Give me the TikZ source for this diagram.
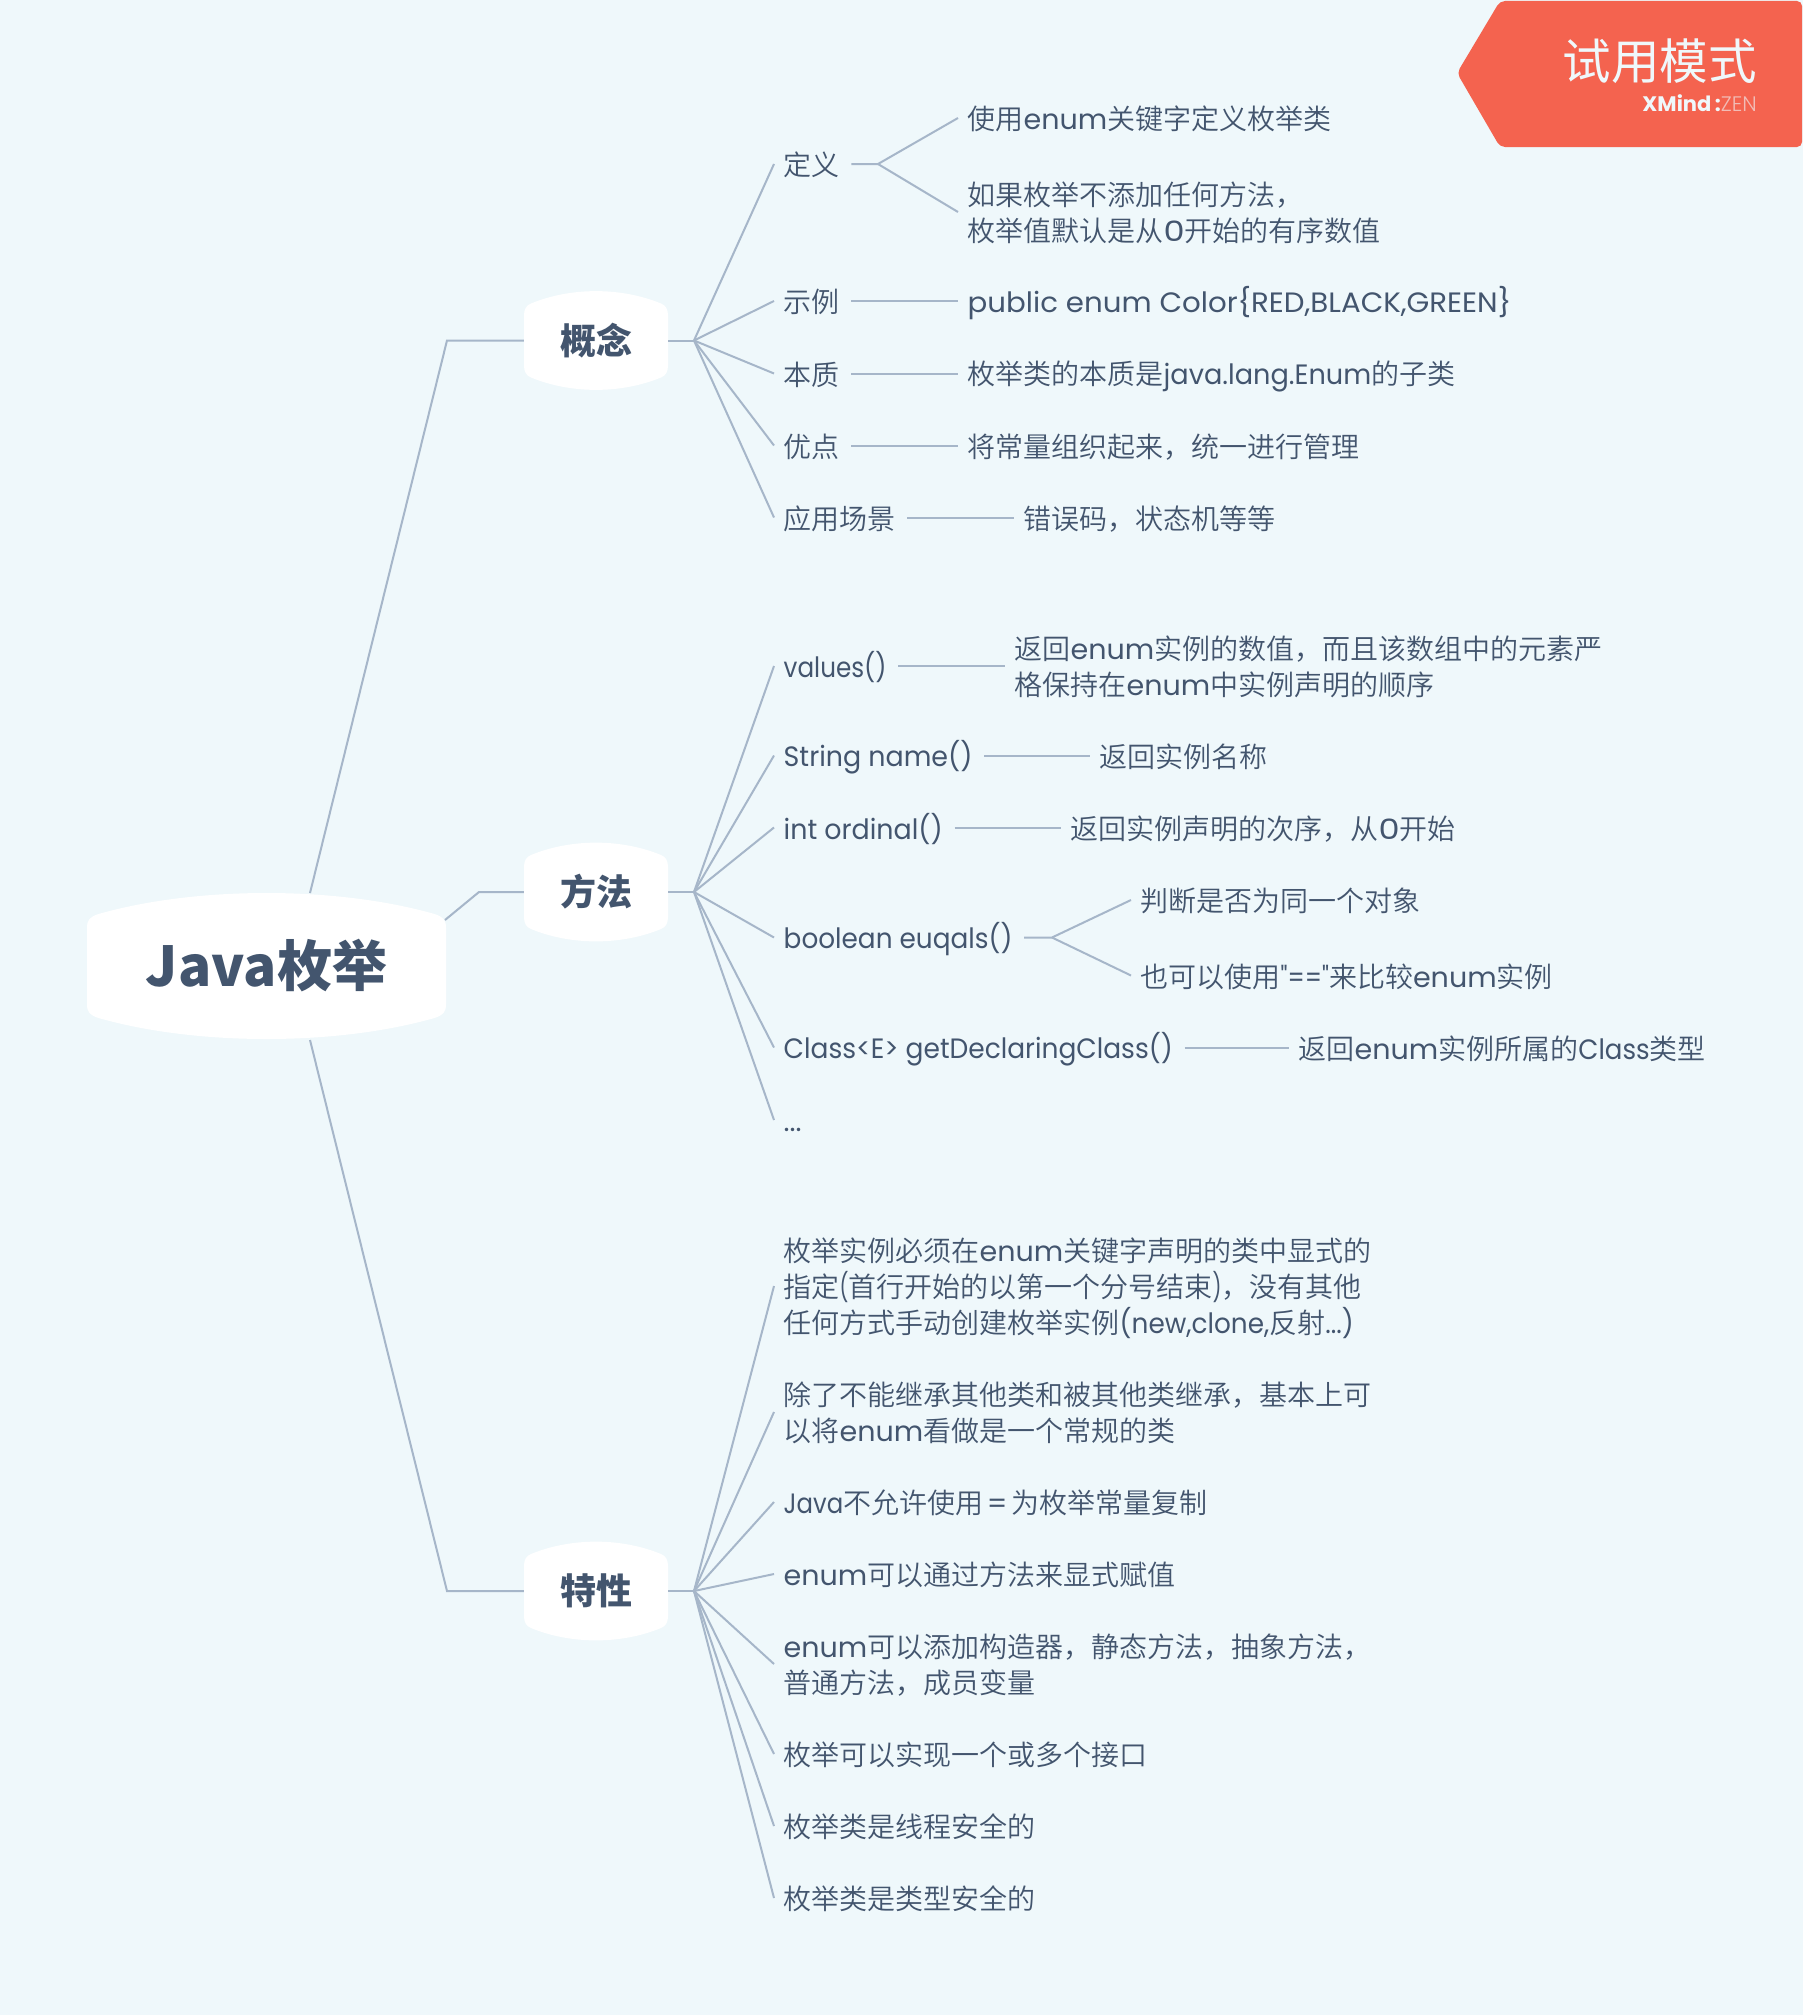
\documentclass[tikz,border=0pt]{standalone}
\usepackage{fontspec}
\setmainfont{Noto Sans CJK SC DemiLight}
\newfontfamily\hdfont{Noto Sans CJK SC}
\newfontfamily\enfont{Poppins}[FakeStretch=1.02]
\newfontfamily\enbold{Poppins}
\newfontfamily\enthin{Poppins Light}
\newcommand\en[1]{{\enfont #1}}
\newcommand\ens[2]{{\enfont\addfontfeature{FakeStretch=#1}#2}}
\definecolor{bgc}{HTML}{EFF8FB}
\definecolor{linec}{HTML}{A6B6C9}
\definecolor{txtc}{HTML}{43556E}
\definecolor{badgec}{HTML}{F4634F}
\newcommand\leafstrut{\rule[-6pt]{0pt}{35.6pt}}
\tikzset{
  conn/.style={draw=linec,line width=2pt},
  leaf/.style={anchor=west,align=left,inner xsep=9.5pt,inner ysep=0pt,text=txtc,font=\fontsize{28}{36}\selectfont,execute at begin node=\leafstrut,execute at end node=\kern2pt\leafstrut},
  topicnode/.style={minimum width=144pt,minimum height=99pt,inner sep=0pt,text=txtc,font=\hdfont\bfseries\fontsize{36}{40}\selectfont},
  rootnode/.style={minimum width=359pt,minimum height=148pt,inner sep=0pt,text=txtc,font=\hdfont\bfseries\fontsize{55}{60}\selectfont}
}
\newcommand\topicshape[1]{\fill[white,shift={(#1)}] (-72,-25) .. controls (-72,-31) and (-70,-35) .. (-65,-37) .. controls (-25,-53.5) and (25,-53.5) .. (65,-37) .. controls (70,-35) and (72,-31) .. (72,-25) -- (72,25) .. controls (72,31) and (70,35) .. (65,37) .. controls (25,53.5) and (-25,53.5) .. (-65,37) .. controls (-70,35) and (-72,31) .. (-72,25) -- cycle;}
\begin{document}
\begin{tikzpicture}[x=1pt,y=-1pt]
\useasboundingbox (0,0) rectangle (1803,2015);
\fill[bgc] (0,0) rectangle (1803,2015);
% badge
\fill[badgec,rounded corners=5pt] (1500,1) -- (1457,73) -- (1500,147) -- (1802,147) -- (1802,1) -- cycle;
\node[anchor=east,inner sep=0pt,text=bgc,font=\hdfont\fontsize{48.5}{50}\selectfont] (badge) at (1757,61) {试用模式};
\node[anchor=east,inner sep=0pt,text=bgc,font=\fontsize{21}{22}\selectfont] (brand) at (1757,103) {{\enbold\bfseries XMind\,:}\textcolor{bgc!60!badgec}{\enthin ZEN}};
% root & topic shapes
\fill[white,shift={(266.5,966)}] (-179.5,-38) .. controls (-179.5,-46) and (-177,-49) .. (-168,-52) .. controls (-70,-80) and (70,-80) .. (168,-52) .. controls (177,-49) and (179.5,-46) .. (179.5,-38) -- (179.5,38) .. controls (179.5,46) and (177,49) .. (168,52) .. controls (70,80) and (-70,80) .. (-168,52) .. controls (-177,49) and (-179.5,46) .. (-179.5,38) -- cycle;
\topicshape{596,340.5}
\topicshape{596,892}
\topicshape{596,1591}
\node[rootnode] (root) at (266.5,966) {\hdfont Java枚举};
\node[topicnode] (t1) at (596,340.5) {概念};
\node[topicnode] (t2) at (596,892) {方法};
\node[topicnode] (t3) at (596,1591) {特性};
% coordinates
\coordinate (rtop) at (310,893);
\coordinate (rbot) at (310,1040);
\coordinate (rmid) at (445,920);
\coordinate (e1) at (447,340.5);
\coordinate (e2) at (479,892);
\coordinate (e3) at (447,1591);
\coordinate (b1) at (694,340.5);
\coordinate (b2) at (694,892);
\coordinate (b3) at (694,1591);
\draw[conn] (rtop) -- (e1) -- (t1.west);
\draw[conn] (rmid) -- (e2) -- (t2.west);
\draw[conn] (rbot) -- (e3) -- (t3.west);
\draw[conn] (t1.east) -- (b1);
\draw[conn] (t2.east) -- (b2);
\draw[conn] (t3.east) -- (b3);
% level 2: concept
\node[leaf] (a1) at (774,164) {定义};
\node[leaf] (a2) at (774,301) {示例};
\node[leaf] (a3) at (774,373.5) {本质};
\node[leaf] (a4) at (774,445.5) {优点};
\node[leaf] (a5) at (774,517.5) {应用场景};
\node[leaf] (a11) at (958,118) {使用\en{enum}关键字定义枚举类};
\node[leaf] (a12) at (958,214.5) {如果枚举不添加任何方法，\\枚举值默认是从\ens{1.2}{0}开始的有序数值};
\node[leaf] (a21) at (958,301) {\ens{1.045}{public enum Color\{RED,BLACK,GREEN\}}};
\node[leaf] (a31) at (958,373.5) {枚举类的本质是\ens{0.97}{java.lang.Enum}的子类};
\node[leaf] (a41) at (958,445.5) {将常量组织起来，统一进行管理};
\node[leaf] (a51) at (1014,517.5) {错误码，状态机等等};
\coordinate (a1b) at (878,164);
\coordinate (a12e) at (958,212);
\foreach \n in {a1,a2,a3,a4,a5} \draw[conn] (b1) -- (\n.west);
\draw[conn] (a1.east) -- (a1b) -- (a11.west);
\draw[conn] (a1b) -- (a12e);
\draw[conn] (a2.east) -- (a21.west);
\draw[conn] (a3.east) -- (a31.west);
\draw[conn] (a4.east) -- (a41.west);
\draw[conn] (a5.east) -- (a51.west);
% level 2: methods
\node[leaf] (m1) at (774,666) {\ens{0.88}{values()}};
\node[leaf] (m2) at (774,755.5) {\ens{0.96}{String name()}};
\node[leaf] (m3) at (774,827.5) {\ens{0.96}{int ordinal()}};
\node[leaf] (m4) at (774,937.5) {\ens{0.94}{boolean euqals()}};
\node[leaf] (m5) at (774,1047.5) {\ens{0.945}{Class<E> getDeclaringClass()}};
\node[leaf] (m6) at (774,1120) {\en{...}};
\node[leaf] (m11) at (1005,668.5) {返回\en{enum}实例的数值，而且该数组中的元素严\\格保持在\en{enum}中实例声明的顺序};
\node[leaf] (m21) at (1090,755.5) {返回实例名称};
\node[leaf] (m31) at (1061,827.5) {返回实例声明的次序，从\ens{1.2}{0}开始};
\node[leaf] (m41) at (1131,900) {判断是否为同一个对象};
\node[leaf] (m42) at (1131,975.5) {也可以使用\ens{0.85}{"=="}来比较\en{enum}实例};
\node[leaf] (m51) at (1289,1047.5) {返回\en{enum}实例所属的\ens{0.93}{Class}类型};
\coordinate (m4b) at (1052,937.5);
\coordinate (m1e) at (1005,666);
\foreach \n in {m1,m2,m3,m4,m5,m6} \draw[conn] (b2) -- (\n.west);
\draw[conn] (m1.east) -- (m1e);
\draw[conn] (m2.east) -- (m21.west);
\draw[conn] (m3.east) -- (m31.west);
\draw[conn] (m4.east) -- (m4b) -- (m41.west);
\draw[conn] (m4b) -- (m42.west);
\draw[conn] (m5.east) -- (m51.west);
% level 2: features
\node[leaf] (f1) at (774,1288.5) {枚举实例必须在\en{enum}关键字声明的类中显式的\\指定\ens{0.7}{(}首行开始的以第一个分号结束\ens{0.7}{)}，没有其他\\任何方式手动创建枚举实例\ens{0.94}{(new,clone,}反射\ens{0.94}{...)}};
\node[leaf] (f2) at (774,1414.5) {除了不能继承其他类和被其他类继承，基本上可\\以将\en{enum}看做是一个常规的类};
\node[leaf] (f3) at (774,1502) {\ens{0.87}{Java}不允许使用\makebox[28pt]{\en{=}}为枚举常量复制};
\node[leaf] (f4) at (774,1574) {\en{enum}可以通过方法来显式赋值};
\node[leaf] (f5) at (774,1666.5) {\en{enum}可以添加构造器，静态方法，抽象方法，\\普通方法，成员变量};
\node[leaf] (f6) at (774,1754) {枚举可以实现一个或多个接口};
\node[leaf] (f7) at (774,1826) {枚举类是线程安全的};
\node[leaf] (f8) at (774,1898) {枚举类是类型安全的};
\coordinate (f1e) at (774,1286);
\coordinate (f2e) at (774,1412);
\coordinate (f5e) at (774,1664);
\draw[conn] (b3) -- (f1e);
\draw[conn] (b3) -- (f2e);
\draw[conn] (b3) -- (f5e);
\foreach \n in {f3,f4,f6,f7,f8} \draw[conn] (b3) -- (\n.west);
\end{tikzpicture}
\end{document}
